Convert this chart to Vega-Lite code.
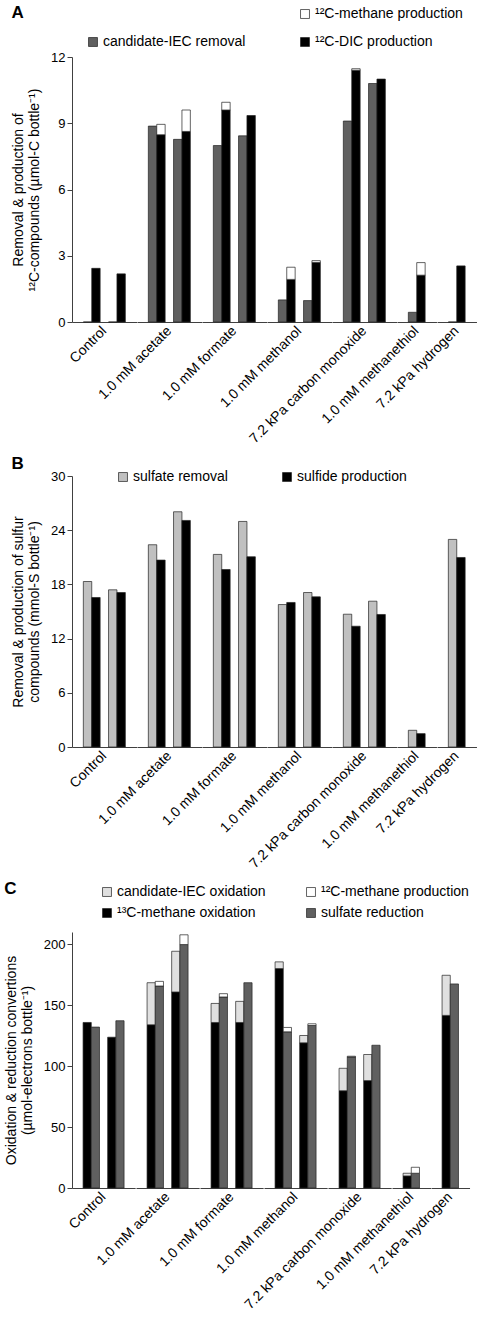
{
  "$schema": "https://vega.github.io/schema/vega-lite/v6.json",
  "background": "white",
  "padding": {"left": 4, "top": 4, "right": 0, "bottom": 0},
  "spacing": 8,
  "config": {
    "font": "Liberation Sans",
    "view": {"stroke": null},
    "axis": {"labelFont": "Liberation Sans", "titleFont": "Liberation Sans", "domainColor": "#404040", "tickColor": "#404040", "labelColor": "black", "titleColor": "black", "titleFontWeight": "normal", "grid": false},
    "header": {"labelFont": "Liberation Sans"},
    "legend": {"labelFont": "Liberation Sans"},
    "title": {"font": "Liberation Sans"}
  },
  "resolve": {"scale": {"color": "independent"}, "legend": {"color": "independent"}},
  "vconcat": [
    {
      "title": {"text": "A", "anchor": "start", "fontSize": 17, "fontWeight": "bold", "offset": -15},
      "data": {"values": [
        {"treatment": "Control", "bottle": "1", "bar": "removal", "component": "candidate-IEC removal", "part": "bottom", "value": 0},
        {"treatment": "Control", "bottle": "1", "bar": "production", "component": "¹²C-DIC production", "part": "bottom", "value": 2.43},
        {"treatment": "Control", "bottle": "2", "bar": "removal", "component": "candidate-IEC removal", "part": "bottom", "value": 0},
        {"treatment": "Control", "bottle": "2", "bar": "production", "component": "¹²C-DIC production", "part": "bottom", "value": 2.18},
        {"treatment": "1.0 mM acetate", "bottle": "1", "bar": "removal", "component": "candidate-IEC removal", "part": "bottom", "value": 8.87},
        {"treatment": "1.0 mM acetate", "bottle": "1", "bar": "production", "component": "¹²C-DIC production", "part": "bottom", "value": 8.48},
        {"treatment": "1.0 mM acetate", "bottle": "1", "bar": "production", "component": "¹²C-methane production", "part": "top", "value": 0.47},
        {"treatment": "1.0 mM acetate", "bottle": "2", "bar": "removal", "component": "candidate-IEC removal", "part": "bottom", "value": 8.27},
        {"treatment": "1.0 mM acetate", "bottle": "2", "bar": "production", "component": "¹²C-DIC production", "part": "bottom", "value": 8.63},
        {"treatment": "1.0 mM acetate", "bottle": "2", "bar": "production", "component": "¹²C-methane production", "part": "top", "value": 0.97},
        {"treatment": "1.0 mM formate", "bottle": "1", "bar": "removal", "component": "candidate-IEC removal", "part": "bottom", "value": 7.99},
        {"treatment": "1.0 mM formate", "bottle": "1", "bar": "production", "component": "¹²C-DIC production", "part": "bottom", "value": 9.6},
        {"treatment": "1.0 mM formate", "bottle": "1", "bar": "production", "component": "¹²C-methane production", "part": "top", "value": 0.35},
        {"treatment": "1.0 mM formate", "bottle": "2", "bar": "removal", "component": "candidate-IEC removal", "part": "bottom", "value": 8.43},
        {"treatment": "1.0 mM formate", "bottle": "2", "bar": "production", "component": "¹²C-DIC production", "part": "bottom", "value": 9.35},
        {"treatment": "1.0 mM methanol", "bottle": "1", "bar": "removal", "component": "candidate-IEC removal", "part": "bottom", "value": 1.0},
        {"treatment": "1.0 mM methanol", "bottle": "1", "bar": "production", "component": "¹²C-DIC production", "part": "bottom", "value": 1.93},
        {"treatment": "1.0 mM methanol", "bottle": "1", "bar": "production", "component": "¹²C-methane production", "part": "top", "value": 0.55},
        {"treatment": "1.0 mM methanol", "bottle": "2", "bar": "removal", "component": "candidate-IEC removal", "part": "bottom", "value": 0.97},
        {"treatment": "1.0 mM methanol", "bottle": "2", "bar": "production", "component": "¹²C-DIC production", "part": "bottom", "value": 2.7},
        {"treatment": "1.0 mM methanol", "bottle": "2", "bar": "production", "component": "¹²C-methane production", "part": "top", "value": 0.08},
        {"treatment": "7.2 kPa carbon monoxide", "bottle": "1", "bar": "removal", "component": "candidate-IEC removal", "part": "bottom", "value": 9.1},
        {"treatment": "7.2 kPa carbon monoxide", "bottle": "1", "bar": "production", "component": "¹²C-DIC production", "part": "bottom", "value": 11.4},
        {"treatment": "7.2 kPa carbon monoxide", "bottle": "1", "bar": "production", "component": "¹²C-methane production", "part": "top", "value": 0.07},
        {"treatment": "7.2 kPa carbon monoxide", "bottle": "2", "bar": "removal", "component": "candidate-IEC removal", "part": "bottom", "value": 10.8},
        {"treatment": "7.2 kPa carbon monoxide", "bottle": "2", "bar": "production", "component": "¹²C-DIC production", "part": "bottom", "value": 11.0},
        {"treatment": "1.0 mM methanethiol", "bottle": "1", "bar": "removal", "component": "candidate-IEC removal", "part": "bottom", "value": 0.44},
        {"treatment": "1.0 mM methanethiol", "bottle": "1", "bar": "production", "component": "¹²C-DIC production", "part": "bottom", "value": 2.12},
        {"treatment": "1.0 mM methanethiol", "bottle": "1", "bar": "production", "component": "¹²C-methane production", "part": "top", "value": 0.57},
        {"treatment": "7.2 kPa hydrogen", "bottle": "1", "bar": "removal", "component": "candidate-IEC removal", "part": "bottom", "value": 0},
        {"treatment": "7.2 kPa hydrogen", "bottle": "1", "bar": "production", "component": "¹²C-DIC production", "part": "bottom", "value": 2.54}
      ]},
      "facet": {"column": {"field": "treatment", "type": "nominal",
        "sort": ["Control", "1.0 mM acetate", "1.0 mM formate", "1.0 mM methanol", "7.2 kPa carbon monoxide", "1.0 mM methanethiol", "7.2 kPa hydrogen"],
        "header": {"title": null, "labelOrient": "bottom", "labelAngle": -45, "labelAlign": "right", "labelBaseline": "middle", "labelPadding": 6, "labelFontSize": 14, "labelColor": "black"}}},
      "spacing": 0,
      "resolve": {"scale": {"x": "independent"}},
      "spec": {
        "width": {"step": 25.2},
        "height": 265,
        "encoding": {
          "x": {"field": "bottle", "type": "nominal", "scale": {"paddingInner": 0.3333, "paddingOuter": 0.45}, "axis": {"labels": false, "ticks": false, "title": null, "domainColor": "#404040"}},
          "y": {"field": "value", "type": "quantitative", "stack": "zero", "scale": {"domain": [0, 12], "nice": false},
            "axis": {"values": [0, 3, 6, 9, 12], "tickSize": 5, "labelPadding": 2, "labelFontSize": 13, "titleFontSize": 14, "titlePadding": 9,
              "title": ["Removal & production of", "¹²C-compounds  (µmol-C bottle⁻¹)"]}},
          "color": {"field": "component", "type": "nominal",
            "scale": {"domain": [" ", "candidate-IEC removal", "¹²C-methane production", "¹²C-DIC production"], "range": ["white", "#606060", "white", "black"]},
            "legend": {"title": null, "orient": "none", "legendX": 14, "legendY": -50, "columns": 2, "symbolType": "square", "symbolSize": 80, "symbolStrokeColor": "#222", "symbolStrokeWidth": 0.7, "labelFontSize": 14, "columnPadding": 52, "rowPadding": 14, "labelOffset": 3,
              "encode": {"symbols": {"update": {"opacity": {"signal": "datum.value === ' ' ? 0 : 1"}}}}}},
          "order": {"field": "part"}
        },
        "layer": [
          {"transform": [{"filter": "datum.bar === 'removal'"}], "mark": {"type": "bar", "width": {"band": 0.5}, "xOffset": -4.2, "stroke": "#222", "strokeWidth": 0.7}},
          {"transform": [{"filter": "datum.bar === 'production'"}], "mark": {"type": "bar", "width": {"band": 0.5}, "xOffset": 4.2, "stroke": "#222", "strokeWidth": 0.7}}
        ]
      }
    },
    {
      "title": {"text": "B", "anchor": "start", "fontSize": 17, "fontWeight": "bold", "offset": -3},
      "data": {"values": [
        {"treatment": "Control", "bottle": "1", "bar": "removal", "component": "sulfate removal", "value": 18.32},
        {"treatment": "Control", "bottle": "1", "bar": "production", "component": "sulfide production", "value": 16.55},
        {"treatment": "Control", "bottle": "2", "bar": "removal", "component": "sulfate removal", "value": 17.4},
        {"treatment": "Control", "bottle": "2", "bar": "production", "component": "sulfide production", "value": 17.1},
        {"treatment": "1.0 mM acetate", "bottle": "1", "bar": "removal", "component": "sulfate removal", "value": 22.39},
        {"treatment": "1.0 mM acetate", "bottle": "1", "bar": "production", "component": "sulfide production", "value": 20.69},
        {"treatment": "1.0 mM acetate", "bottle": "2", "bar": "removal", "component": "sulfate removal", "value": 26.04},
        {"treatment": "1.0 mM acetate", "bottle": "2", "bar": "production", "component": "sulfide production", "value": 25.08},
        {"treatment": "1.0 mM formate", "bottle": "1", "bar": "removal", "component": "sulfate removal", "value": 21.32},
        {"treatment": "1.0 mM formate", "bottle": "1", "bar": "production", "component": "sulfide production", "value": 19.65},
        {"treatment": "1.0 mM formate", "bottle": "2", "bar": "removal", "component": "sulfate removal", "value": 24.97},
        {"treatment": "1.0 mM formate", "bottle": "2", "bar": "production", "component": "sulfide production", "value": 21.06},
        {"treatment": "1.0 mM methanol", "bottle": "1", "bar": "removal", "component": "sulfate removal", "value": 15.77},
        {"treatment": "1.0 mM methanol", "bottle": "1", "bar": "production", "component": "sulfide production", "value": 16.0},
        {"treatment": "1.0 mM methanol", "bottle": "2", "bar": "removal", "component": "sulfate removal", "value": 17.1},
        {"treatment": "1.0 mM methanol", "bottle": "2", "bar": "production", "component": "sulfide production", "value": 16.62},
        {"treatment": "7.2 kPa carbon monoxide", "bottle": "1", "bar": "removal", "component": "sulfate removal", "value": 14.7},
        {"treatment": "7.2 kPa carbon monoxide", "bottle": "1", "bar": "production", "component": "sulfide production", "value": 13.37},
        {"treatment": "7.2 kPa carbon monoxide", "bottle": "2", "bar": "removal", "component": "sulfate removal", "value": 16.14},
        {"treatment": "7.2 kPa carbon monoxide", "bottle": "2", "bar": "production", "component": "sulfide production", "value": 14.67},
        {"treatment": "1.0 mM methanethiol", "bottle": "1", "bar": "removal", "component": "sulfate removal", "value": 1.85},
        {"treatment": "1.0 mM methanethiol", "bottle": "1", "bar": "production", "component": "sulfide production", "value": 1.48},
        {"treatment": "7.2 kPa hydrogen", "bottle": "1", "bar": "removal", "component": "sulfate removal", "value": 22.98},
        {"treatment": "7.2 kPa hydrogen", "bottle": "1", "bar": "production", "component": "sulfide production", "value": 20.98}
      ]},
      "facet": {"column": {"field": "treatment", "type": "nominal",
        "sort": ["Control", "1.0 mM acetate", "1.0 mM formate", "1.0 mM methanol", "7.2 kPa carbon monoxide", "1.0 mM methanethiol", "7.2 kPa hydrogen"],
        "header": {"title": null, "labelOrient": "bottom", "labelAngle": -45, "labelAlign": "right", "labelBaseline": "middle", "labelPadding": 6, "labelFontSize": 14, "labelColor": "black"}}},
      "spacing": 0,
      "resolve": {"scale": {"x": "independent"}},
      "spec": {
        "width": {"step": 25.2},
        "height": 271,
        "encoding": {
          "x": {"field": "bottle", "type": "nominal", "scale": {"paddingInner": 0.3333, "paddingOuter": 0.45}, "axis": {"labels": false, "ticks": false, "title": null, "domainColor": "#404040"}},
          "y": {"field": "value", "type": "quantitative", "scale": {"domain": [0, 30], "nice": false},
            "axis": {"values": [0, 6, 12, 18, 24, 30], "tickSize": 5, "labelPadding": 2, "labelFontSize": 13, "titleFontSize": 14, "titlePadding": 9,
              "title": ["Removal &  production of sulfur", "compounds  (mmol-S  bottle⁻¹)"]}},
          "color": {"field": "component", "type": "nominal",
            "scale": {"domain": ["sulfate removal", "sulfide production"], "range": ["#c0c0c0", "black"]},
            "legend": {"title": null, "orient": "none", "legendX": 44, "legendY": -6, "direction": "horizontal", "symbolType": "square", "symbolSize": 80, "symbolStrokeColor": "#222", "symbolStrokeWidth": 0.7, "labelFontSize": 14, "columnPadding": 52, "labelOffset": 3}}
        },
        "layer": [
          {"transform": [{"filter": "datum.bar === 'removal'"}], "mark": {"type": "bar", "width": {"band": 0.5}, "xOffset": -4.2, "stroke": "#222", "strokeWidth": 0.7}},
          {"transform": [{"filter": "datum.bar === 'production'"}], "mark": {"type": "bar", "width": {"band": 0.5}, "xOffset": 4.2, "stroke": "#222", "strokeWidth": 0.7}}
        ]
      }
    },
    {
      "title": {"text": "C", "anchor": "start", "fontSize": 17, "fontWeight": "bold", "offset": -13},
      "data": {"values": [
        {"treatment": "Control", "bottle": "1", "bar": "oxidation", "component": "¹³C-methane oxidation", "part": "bottom", "value": 135.8},
        {"treatment": "Control", "bottle": "1", "bar": "reduction", "component": "sulfate reduction", "part": "bottom", "value": 132.0},
        {"treatment": "Control", "bottle": "2", "bar": "oxidation", "component": "¹³C-methane oxidation", "part": "bottom", "value": 123.7},
        {"treatment": "Control", "bottle": "2", "bar": "reduction", "component": "sulfate reduction", "part": "bottom", "value": 137.2},
        {"treatment": "1.0 mM acetate", "bottle": "1", "bar": "oxidation", "component": "¹³C-methane oxidation", "part": "bottom", "value": 133.9},
        {"treatment": "1.0 mM acetate", "bottle": "1", "bar": "oxidation", "component": "candidate-IEC oxidation", "part": "top", "value": 34.5},
        {"treatment": "1.0 mM acetate", "bottle": "1", "bar": "reduction", "component": "sulfate reduction", "part": "bottom", "value": 165.7},
        {"treatment": "1.0 mM acetate", "bottle": "1", "bar": "reduction", "component": "¹²C-methane production", "part": "top", "value": 3.8},
        {"treatment": "1.0 mM acetate", "bottle": "2", "bar": "oxidation", "component": "¹³C-methane oxidation", "part": "bottom", "value": 160.8},
        {"treatment": "1.0 mM acetate", "bottle": "2", "bar": "oxidation", "component": "candidate-IEC oxidation", "part": "top", "value": 33.4},
        {"treatment": "1.0 mM acetate", "bottle": "2", "bar": "reduction", "component": "sulfate reduction", "part": "bottom", "value": 199.7},
        {"treatment": "1.0 mM acetate", "bottle": "2", "bar": "reduction", "component": "¹²C-methane production", "part": "top", "value": 8.0},
        {"treatment": "1.0 mM formate", "bottle": "1", "bar": "oxidation", "component": "¹³C-methane oxidation", "part": "bottom", "value": 135.8},
        {"treatment": "1.0 mM formate", "bottle": "1", "bar": "oxidation", "component": "candidate-IEC oxidation", "part": "top", "value": 15.6},
        {"treatment": "1.0 mM formate", "bottle": "1", "bar": "reduction", "component": "sulfate reduction", "part": "bottom", "value": 156.7},
        {"treatment": "1.0 mM formate", "bottle": "1", "bar": "reduction", "component": "¹²C-methane production", "part": "top", "value": 2.7},
        {"treatment": "1.0 mM formate", "bottle": "2", "bar": "oxidation", "component": "¹³C-methane oxidation", "part": "bottom", "value": 135.8},
        {"treatment": "1.0 mM formate", "bottle": "2", "bar": "oxidation", "component": "candidate-IEC oxidation", "part": "top", "value": 17.3},
        {"treatment": "1.0 mM formate", "bottle": "2", "bar": "reduction", "component": "sulfate reduction", "part": "bottom", "value": 168.4},
        {"treatment": "1.0 mM methanol", "bottle": "1", "bar": "oxidation", "component": "¹³C-methane oxidation", "part": "bottom", "value": 180.0},
        {"treatment": "1.0 mM methanol", "bottle": "1", "bar": "oxidation", "component": "candidate-IEC oxidation", "part": "top", "value": 5.5},
        {"treatment": "1.0 mM methanol", "bottle": "1", "bar": "reduction", "component": "sulfate reduction", "part": "bottom", "value": 128.1},
        {"treatment": "1.0 mM methanol", "bottle": "1", "bar": "reduction", "component": "¹²C-methane production", "part": "top", "value": 3.6},
        {"treatment": "1.0 mM methanol", "bottle": "2", "bar": "oxidation", "component": "¹³C-methane oxidation", "part": "bottom", "value": 119.1},
        {"treatment": "1.0 mM methanol", "bottle": "2", "bar": "oxidation", "component": "candidate-IEC oxidation", "part": "top", "value": 6.0},
        {"treatment": "1.0 mM methanol", "bottle": "2", "bar": "reduction", "component": "sulfate reduction", "part": "bottom", "value": 133.3},
        {"treatment": "1.0 mM methanol", "bottle": "2", "bar": "reduction", "component": "¹²C-methane production", "part": "top", "value": 1.4},
        {"treatment": "7.2 kPa carbon monoxide", "bottle": "1", "bar": "oxidation", "component": "¹³C-methane oxidation", "part": "bottom", "value": 79.8},
        {"treatment": "7.2 kPa carbon monoxide", "bottle": "1", "bar": "oxidation", "component": "candidate-IEC oxidation", "part": "top", "value": 18.4},
        {"treatment": "7.2 kPa carbon monoxide", "bottle": "1", "bar": "reduction", "component": "sulfate reduction", "part": "bottom", "value": 107.5},
        {"treatment": "7.2 kPa carbon monoxide", "bottle": "1", "bar": "reduction", "component": "¹²C-methane production", "part": "top", "value": 0.6},
        {"treatment": "7.2 kPa carbon monoxide", "bottle": "2", "bar": "oxidation", "component": "¹³C-methane oxidation", "part": "bottom", "value": 88.1},
        {"treatment": "7.2 kPa carbon monoxide", "bottle": "2", "bar": "oxidation", "component": "candidate-IEC oxidation", "part": "top", "value": 21.4},
        {"treatment": "7.2 kPa carbon monoxide", "bottle": "2", "bar": "reduction", "component": "sulfate reduction", "part": "bottom", "value": 117.1},
        {"treatment": "1.0 mM methanethiol", "bottle": "1", "bar": "oxidation", "component": "¹³C-methane oxidation", "part": "bottom", "value": 9.9},
        {"treatment": "1.0 mM methanethiol", "bottle": "1", "bar": "oxidation", "component": "candidate-IEC oxidation", "part": "top", "value": 2.2},
        {"treatment": "1.0 mM methanethiol", "bottle": "1", "bar": "reduction", "component": "sulfate reduction", "part": "bottom", "value": 12.1},
        {"treatment": "1.0 mM methanethiol", "bottle": "1", "bar": "reduction", "component": "¹²C-methane production", "part": "top", "value": 4.9},
        {"treatment": "7.2 kPa hydrogen", "bottle": "1", "bar": "oxidation", "component": "¹³C-methane oxidation", "part": "bottom", "value": 141.6},
        {"treatment": "7.2 kPa hydrogen", "bottle": "1", "bar": "oxidation", "component": "candidate-IEC oxidation", "part": "top", "value": 32.9},
        {"treatment": "7.2 kPa hydrogen", "bottle": "1", "bar": "reduction", "component": "sulfate reduction", "part": "bottom", "value": 167.4}
      ]},
      "facet": {"column": {"field": "treatment", "type": "nominal",
        "sort": ["Control", "1.0 mM acetate", "1.0 mM formate", "1.0 mM methanol", "7.2 kPa carbon monoxide", "1.0 mM methanethiol", "7.2 kPa hydrogen"],
        "header": {"title": null, "labelOrient": "bottom", "labelAngle": -45, "labelAlign": "right", "labelBaseline": "middle", "labelPadding": 6, "labelFontSize": 14, "labelColor": "black"}}},
      "spacing": 0,
      "resolve": {"scale": {"x": "independent"}},
      "spec": {
        "width": {"step": 24.6},
        "height": 256,
        "encoding": {
          "x": {"field": "bottle", "type": "nominal", "scale": {"paddingInner": 0.3333, "paddingOuter": 0.45}, "axis": {"labels": false, "ticks": false, "title": null, "domainColor": "#404040"}},
          "y": {"field": "value", "type": "quantitative", "stack": "zero", "scale": {"domain": [0, 210], "nice": false},
            "axis": {"values": [0, 50, 100, 150, 200], "tickSize": 5, "labelPadding": 2, "labelFontSize": 13, "titleFontSize": 14, "titlePadding": 9,
              "title": ["Oxidation & reduction convertions", "(µmol-electrons  bottle⁻¹)"]}},
          "color": {"field": "component", "type": "nominal",
            "scale": {"domain": ["candidate-IEC oxidation", "¹³C-methane oxidation", "¹²C-methane production", "sulfate reduction"], "range": ["#e0e0e0", "black", "white", "#606060"]},
            "legend": {"title": null, "orient": "none", "legendX": 28, "legendY": -47, "columns": 2, "symbolType": "square", "symbolSize": 80, "symbolStrokeColor": "#222", "symbolStrokeWidth": 0.7, "labelFontSize": 14, "columnPadding": 38, "rowPadding": 7, "labelOffset": 3}},
          "order": {"field": "part"}
        },
        "layer": [
          {"transform": [{"filter": "datum.bar === 'oxidation'"}], "mark": {"type": "bar", "width": {"band": 0.5}, "xOffset": -4.1, "stroke": "#222", "strokeWidth": 0.7}},
          {"transform": [{"filter": "datum.bar === 'reduction'"}], "mark": {"type": "bar", "width": {"band": 0.5}, "xOffset": 4.1, "stroke": "#222", "strokeWidth": 0.7}}
        ]
      }
    }
  ]
}
